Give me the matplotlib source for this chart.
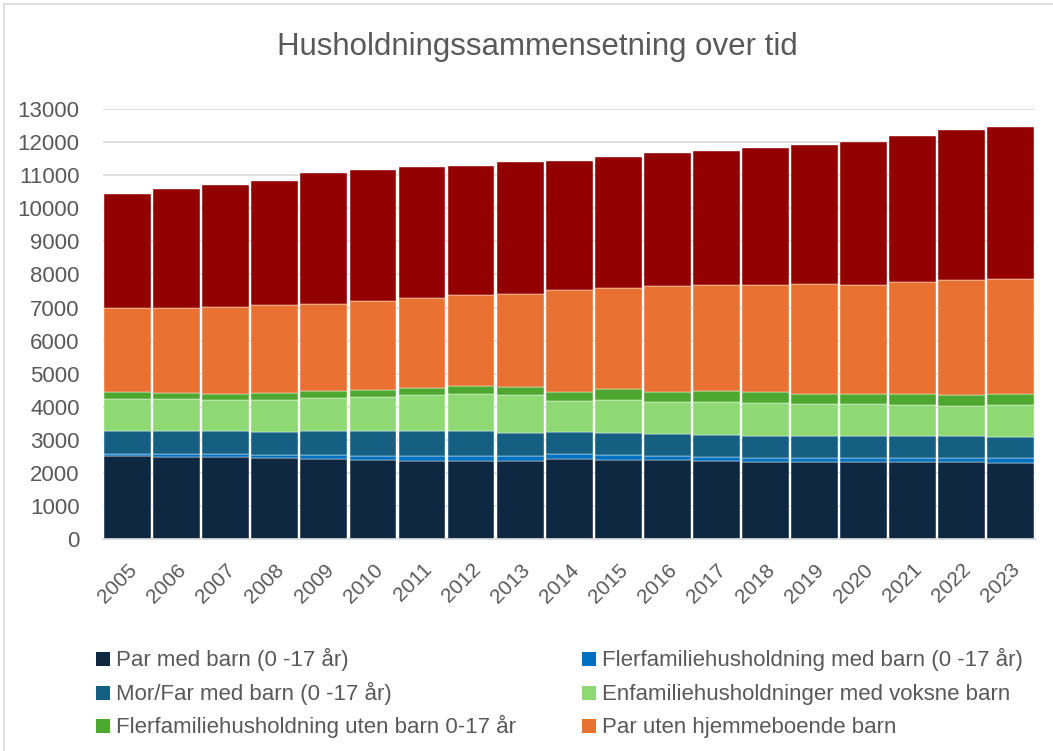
import matplotlib
matplotlib.use("Agg")
import matplotlib.pyplot as plt
from matplotlib.patches import Rectangle
import numpy as np

plt.rcParams['font.family'] = ['Liberation Sans', 'DejaVu Sans']

years = [str(y) for y in range(2005, 2024)]

# husholdninger per type (lest av figuren)
par_med_barn = [2501, 2483, 2471, 2441, 2411, 2381, 2362, 2372, 2362, 2411,
                2381, 2381, 2351, 2321, 2321, 2321, 2321, 2321, 2311]
flerfam_med_barn = [82, 100, 103, 112, 133, 133, 152, 142, 152, 163,
                    163, 133, 141, 141, 132, 132, 141, 141, 142]
morfar_med_barn = [674, 674, 693, 686, 713, 743, 743, 764, 704, 665,
                   674, 673, 665, 655, 654, 654, 645, 645, 634]
enfam_voksne_barn = [988, 968, 938, 976, 997, 1048, 1099, 1108, 1148, 925,
                     997, 958, 988, 1007, 977, 967, 947, 926, 976]
flerfam_uten_barn = [201, 201, 191, 190, 211, 191, 211, 231, 221, 282,
                     311, 311, 341, 312, 291, 301, 321, 323, 312]
par_uten_barn = [2527, 2547, 2619, 2680, 2650, 2709, 2708, 2760, 2830, 3082,
                 3072, 3193, 3182, 3243, 3324, 3314, 3383, 3475, 3495]
aleneboende = [3465, 3598, 3686, 3747, 3949, 3959, 3961, 3889, 3989, 3899,
               3940, 4019, 4061, 4150, 4201, 4312, 4425, 4542, 4594]

series = [
    ("Par med barn (0 -17 år)", par_med_barn, "#0e2841"),
    ("Flerfamiliehusholdning med barn (0 -17 år)", flerfam_med_barn, "#0070c0"),
    ("Mor/Far med barn (0 -17 år)", morfar_med_barn, "#156082"),
    ("Enfamiliehusholdninger med voksne barn", enfam_voksne_barn, "#8ed973"),
    ("Flerfamiliehusholdning uten barn 0-17 år", flerfam_uten_barn, "#4ea72e"),
    ("Par uten hjemmeboende barn", par_uten_barn, "#e97132"),
    ("Aleneboende", aleneboende, "#920000"),
]

text_col = "#595959"
W, H = 1053, 751

fig = plt.figure(figsize=(W / 100, H / 100), dpi=100)
ax = fig.add_axes([0.098, 0.282, 0.885, 0.573])

x = np.arange(len(years))
bottom = np.zeros(len(years))
for name, vals, col in series:
    ax.bar(x, vals, bottom=bottom, width=0.955, color=col,
           edgecolor="#ffffff", linewidth=0.3, zorder=2)
    bottom += np.array(vals)

ax.set_xlim(-0.5, len(years) - 0.5)
ax.set_ylim(0, 13000)
ax.set_yticks(range(0, 13001, 1000))
ax.yaxis.grid(True, color="#d9d9d9", linewidth=1.2, zorder=0)
ax.set_axisbelow(True)
for s in ["top", "right", "left"]:
    ax.spines[s].set_visible(False)
ax.spines["bottom"].set_color("#d9d9d9")
ax.spines["bottom"].set_linewidth(1.2)
ax.tick_params(axis="both", length=0, colors=text_col)
ax.tick_params(axis="y", labelsize=16, pad=17)
ax.tick_params(axis="x", labelsize=15, pad=15)
ax.set_xticks(x)
ax.set_xticklabels(years, rotation=45, ha="right", rotation_mode="anchor")

fig.text(0.51, 0.938, "Husholdningssammensetning over tid", ha="center",
         va="center", fontsize=22.5, color=text_col)

# legend: to kolonner, tre rader, plassert for hånd så radene står likt
col_x = [96, 582]
row_y = [659, 693, 726]
sq = 14
for i, (name, _, col) in enumerate(series[:6]):
    px = col_x[i % 2]
    py = row_y[i // 2]
    fig.patches.append(Rectangle((px / W, 1 - (py + sq / 2) / H), sq / W, sq / H,
                                 transform=fig.transFigure, facecolor=col,
                                 edgecolor="none"))
    fig.text((px + 20) / W, 1 - (py + 7) / H, name, ha="left", va="baseline",
             fontsize=16, color=text_col)

fig.patches.append(Rectangle((0.004, -0.01), 1.0, 1.005, transform=fig.transFigure,
                             fill=False, edgecolor="#d9d9d9", linewidth=1.2))

fig.savefig("out.png", dpi=100)
